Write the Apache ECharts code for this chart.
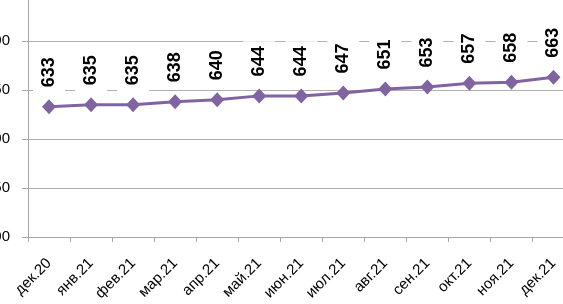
<!DOCTYPE html>
<html>
<head>
<meta charset="utf-8">
<script src="https://cdn.jsdelivr.net/npm/echarts@6/dist/echarts.min.js"></script>
<style>
html,body{margin:0;padding:0;background:#fff;}
#chart{width:563px;height:304px;}
</style>
</head>
<body>
<div id="chart"></div>
<script>
var categories = ['дек.20','янв.21','фев.21','мар.21','апр.21','май.21','июн.21','июл.21','авг.21','сен.21','окт.21','ноя.21','дек.21'];
var values = [633,635,635,638,640,644,644,647,651,653,657,658,663];
var yMin = 500, yMax = 750, yStep = 50;

var chart = echarts.init(document.getElementById('chart'), null, {renderer:'canvas'});
chart.setOption({
  animation: false,
  backgroundColor: '#ffffff',
  grid: {left: 28, right: -11.5, top: -8, bottom: 67, containLabel: false, outerBoundsMode: 'none'},
  xAxis: {
    type: 'category',
    data: categories,
    boundaryGap: true,
    axisLine: {lineStyle: {color: '#a6a6a6', width: 1}},
    axisTick: {show: true, length: 5, inside: false, alignWithLabel: false, lineStyle: {color: '#a6a6a6'}},
    axisLabel: {rotate: 45, margin: 24, fontSize: 15, color: '#000', fontFamily: 'Liberation Sans', interval: 0}
  },
  yAxis: {
    type: 'value',
    min: yMin, max: yMax, interval: yStep,
    axisLine: {show: true, lineStyle: {color: '#a6a6a6', width: 1}},
    axisTick: {show: true, length: 6, lineStyle: {color: '#a6a6a6'}},
    splitLine: {show: true, lineStyle: {color: '#b0b0b0', width: 1}},
    axisLabel: {margin: 18, fontSize: 15, color: '#000', fontFamily: 'Liberation Sans'}
  },
  series: [{
    type: 'line',
    data: values,
    symbol: 'diamond',
    symbolSize: [14, 15],
    lineStyle: {color: '#8064a2', width: 3},
    itemStyle: {color: '#8064a2'},
    label: {
      show: true,
      position: 'top',
      distance: 6,
      rotate: 90,
      align: 'left',
      verticalAlign: 'middle',
      fontSize: 18,
      lineHeight: 18,
      fontWeight: 'bold',
      fontFamily: 'Liberation Sans',
      color: '#000',
      backgroundColor: '#ffffff',
      padding: [7, 5, 7, 6]
    }
  }]
});
</script>
</body>
</html>
